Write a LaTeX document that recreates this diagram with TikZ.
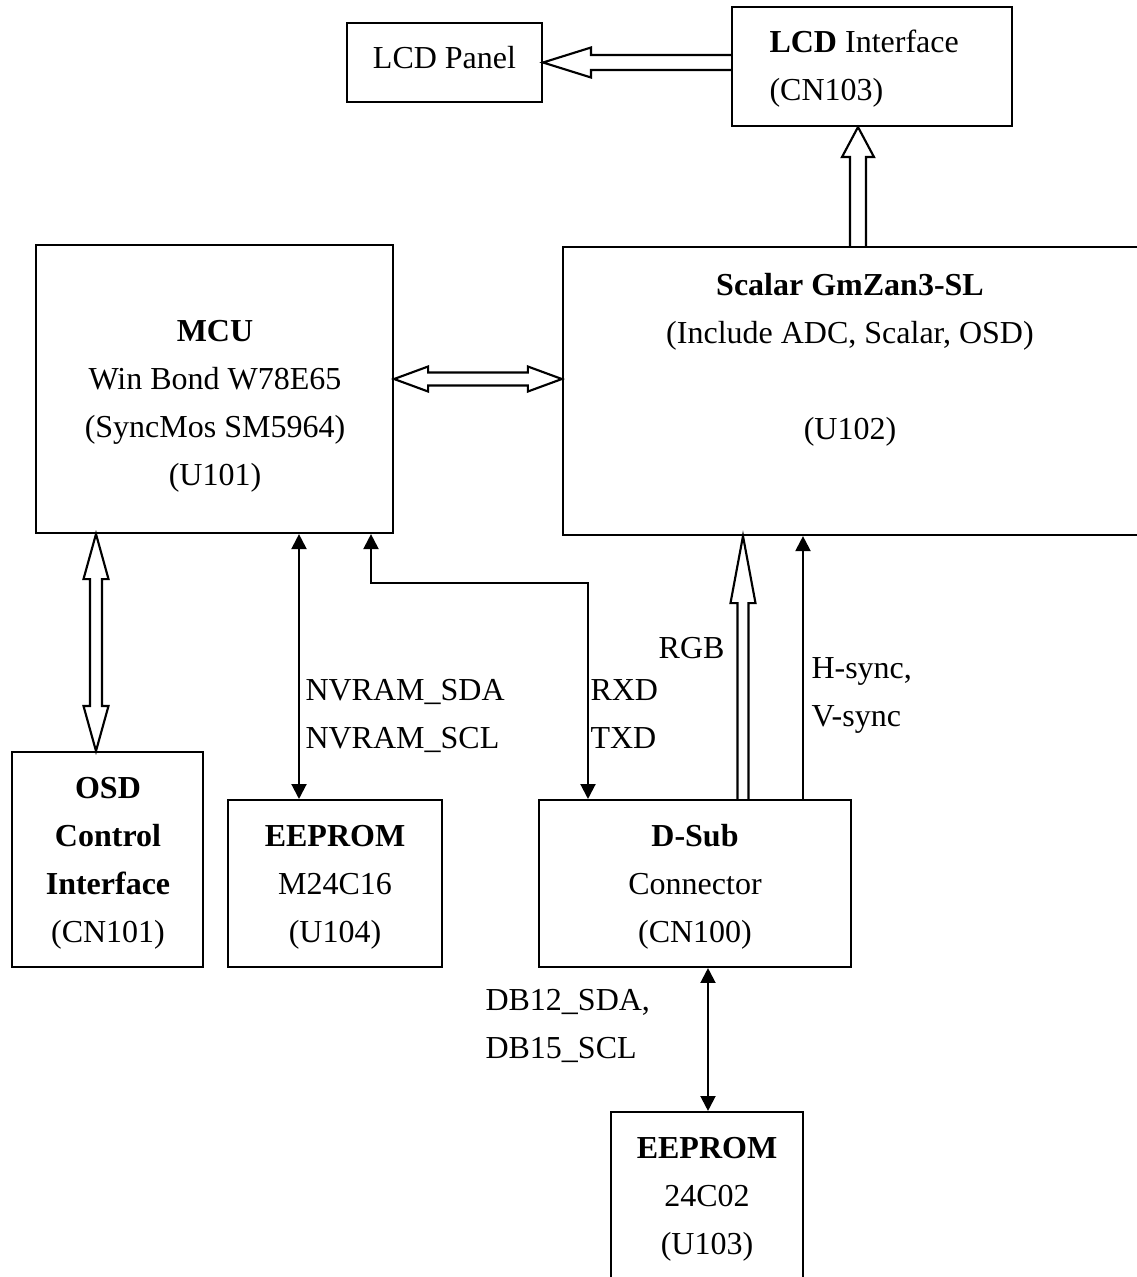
\documentclass[tikz,border=0pt]{standalone}
\usepackage{fontspec}
\setmainfont{Liberation Serif}
\usetikzlibrary{arrows.meta,calc,backgrounds}

\tikzset{
  box/.style={draw, line width=0.8pt, inner sep=0pt},
  txt/.style={font=\fontsize{12pt}{18pt}\selectfont, align=center, inner sep=0pt, anchor=base},
  lbl/.style={font=\fontsize{12pt}{18pt}\selectfont, align=left, inner sep=0pt, anchor=base west},
  sig/.style={line width=0.8pt, -{Triangle[length=5.6pt,width=5.6pt]}},
  sigboth/.style={line width=0.8pt, {Triangle[length=5.6pt,width=5.6pt]}-{Triangle[length=5.6pt,width=5.6pt]}},
  hollow/.style={draw, fill=white, line width=0.8pt, line join=miter},
}

\begin{document}
\begin{tikzpicture}[x=0.375pt, y=-0.375pt]
\useasboundingbox (0,0) rectangle (1137,1277);
\clip (0,0) rectangle (1137,1277);

% blocks
\node[box, minimum width=73.1pt, minimum height=29.6pt] (panel) at (444.5,62.5) {};
\node[box, minimum width=105pt, minimum height=44.6pt] (lcdif) at (872,66.5) {};
\node[box, minimum width=133.9pt, minimum height=108pt] (mcu) at (214.5,389) {};
\node[box, minimum width=218.3pt, minimum height=108pt] (scalar) at (854,391) {};
\node[box, minimum width=71.6pt, minimum height=80.6pt] (osd) at (107.5,859.5) {};
\node[box, minimum width=80.25pt, minimum height=62.6pt] (eepa) at (335,883.5) {};
\node[box, minimum width=117pt, minimum height=62.6pt] (dsub) at (695,883.5) {};
\node[box, minimum width=72pt, minimum height=66.75pt] (eepb) at (707,1201) {};

% block texts (placed by the baseline of their last line)
\node[txt] (panelt) at (444.5,68) {LCD Panel};
\node[txt, anchor=base west, align=left] (lcdift) at (769,100) {\textbf{LCD} Interface\\(CN103)};
\node[txt] (mcut) at (215,485) {\textbf{MCU}\\Win Bond W78E65\\(SyncMos SM5964)\\(U101)};
\node[txt] (scalart) at (850,439) {\textbf{Scalar GmZan3-SL}\\(Include ADC, Scalar, OSD)\\[18pt](U102)};
\node[txt] (osdt) at (108,942) {\textbf{OSD}\\\textbf{Control}\\\textbf{Interface}\\(CN101)};
\node[txt] (eepat) at (335,942) {\textbf{EEPROM}\\M24C16\\(U104)};
\node[txt] (dsubt) at (695,942) {\textbf{D-Sub}\\Connector\\(CN100)};
\node[txt] (eepbt) at (707,1254) {\textbf{EEPROM}\\24C02\\(U103)};

% signal labels
\node[lbl] (nvram) at (305,748) {NVRAM\_SDA\\NVRAM\_SCL};
\node[lbl] (uart) at (590,748) {RXD\\TXD};
\node[lbl, anchor=base east, align=right] (rgb) at (725,658) {RGB};
\node[lbl] (sync) at (811,726) {H-sync,\\V-sync};
\node[lbl] (ddc) at (485,1058) {DB12\_SDA,\\DB15\_SCL};

% x positions of the thin lines
\coordinate (xnv) at (299,0);
\coordinate (xrx) at (371,0);
\coordinate (xtx) at (588,0);
\coordinate (bend) at (0,583);
\coordinate (xhs) at (803,0);
\coordinate (xdb) at (708,0);
\coordinate (xup) at (858,0);
\coordinate (xosd) at (96,0);
\coordinate (xrgb) at (743,0);
\coordinate (ybus) at (0,379);

\draw[sigboth] (xnv |- mcu.south) -- (xnv |- eepa.north);
\draw[sigboth] (xrx |- mcu.south) -- (xrx |- bend) -- (xtx |- bend) -- (xtx |- dsub.north);
\draw[sig] (xhs |- dsub.north) -- (xhs |- scalar.south);
\draw[sigboth] (xdb |- dsub.south) -- (xdb |- eepb.north);

% hollow bus arrows
\begin{scope}[on background layer]
\draw[hollow] ($(lcdif.west |- panel.east)+(0,-7.5)$) -- ($(panel.east)+(48,-7.5)$) -- ($(panel.east)+(48,-15)$) -- (panel.east) -- ($(panel.east)+(48,15)$) -- ($(panel.east)+(48,7.5)$) -- ($(lcdif.west |- panel.east)+(0,7.5)$);
\draw[hollow] ($(xup |- scalar.north)+(-8,0)$) -- ($(xup |- lcdif.south)+(-8,30)$) -- ($(xup |- lcdif.south)+(-16,30)$) -- (xup |- lcdif.south) -- ($(xup |- lcdif.south)+(16,30)$) -- ($(xup |- lcdif.south)+(8,30)$) -- ($(xup |- scalar.north)+(8,0)$);
\draw[hollow] (mcu.east |- ybus) -- ($(mcu.east |- ybus)+(34,-12.5)$) -- ($(mcu.east |- ybus)+(34,-6.5)$) -- ($(scalar.west |- ybus)+(-34,-6.5)$) -- ($(scalar.west |- ybus)+(-34,-12.5)$) -- (scalar.west |- ybus) -- ($(scalar.west |- ybus)+(-34,12.5)$) -- ($(scalar.west |- ybus)+(-34,6.5)$) -- ($(mcu.east |- ybus)+(34,6.5)$) -- ($(mcu.east |- ybus)+(34,12.5)$) -- cycle;
\draw[hollow] (xosd |- mcu.south) -- ($(xosd |- mcu.south)+(12.5,45)$) -- ($(xosd |- mcu.south)+(6,45)$) -- ($(xosd |- osd.north)+(6,-45)$) -- ($(xosd |- osd.north)+(12.5,-45)$) -- (xosd |- osd.north) -- ($(xosd |- osd.north)+(-12.5,-45)$) -- ($(xosd |- osd.north)+(-6,-45)$) -- ($(xosd |- mcu.south)+(-6,45)$) -- ($(xosd |- mcu.south)+(-12.5,45)$) -- cycle;
\draw[hollow] ($(xrgb |- dsub.north)+(-5.5,0)$) -- ($(xrgb |- scalar.south)+(-5.5,67)$) -- ($(xrgb |- scalar.south)+(-12.5,67)$) -- (xrgb |- scalar.south) -- ($(xrgb |- scalar.south)+(12.5,67)$) -- ($(xrgb |- scalar.south)+(5.5,67)$) -- ($(xrgb |- dsub.north)+(5.5,0)$);
\end{scope}
\end{tikzpicture}
\end{document}
